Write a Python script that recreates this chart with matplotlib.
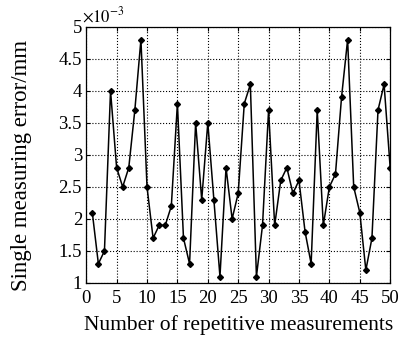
import numpy as np
import matplotlib.pyplot as plt

plt.rcParams['font.family'] = ['Liberation Serif', 'DejaVu Serif']
plt.rcParams['mathtext.fontset'] = 'stix'

# measurement index and error values (x 1e-3 mm)
runs = list(range(1, 51))
errors = [2.1, 1.3, 1.5, 4.0, 2.8, 2.5, 2.8, 3.7, 4.8, 2.5,
          1.7, 1.9, 1.9, 2.2, 3.8, 1.7, 1.3, 3.5, 2.3, 3.5,
          2.3, 1.1, 2.8, 2.0, 2.4, 3.8, 4.1, 1.1, 1.9, 3.7,
          1.9, 2.6, 2.8, 2.4, 2.6, 1.8, 1.3, 3.7, 1.9, 2.5,
          2.7, 3.9, 4.8, 2.5, 2.1, 1.2, 1.7, 3.7, 4.1, 2.8]
xticks = [0, 5, 10, 15, 20, 25, 30, 35, 40, 45, 50]
yticks = [1, 1.5, 2, 2.5, 3, 3.5, 4, 4.5, 5]

fig = plt.figure(figsize=(4.01, 3.43), dpi=100)
ax = fig.add_axes([0.215, 0.175, 0.758, 0.747])

ax.plot(runs, errors, color='black', linewidth=1.1, marker='D', markersize=3)

ax.set_xlim(0, 50)
ax.set_ylim(1, 5)
ax.set_xticks(xticks)
ax.set_yticks(yticks)
ax.set_yticklabels([f'{t:g}' for t in yticks])
ax.grid(True, color='black', linestyle=':', linewidth=0.8)
ax.tick_params(direction='in', top=True, right=True, labelsize=13.5, length=3)
ax.tick_params(axis='x', pad=5)
ax.tick_params(axis='y', pad=3)
for s in ax.spines.values():
    s.set_linewidth(0.9)

ax.set_xlabel('Number of repetitive measurements', fontsize=15.5, labelpad=6)
ax.set_ylabel('Single measuring error/mm', fontsize=16.5)
ax.yaxis.set_label_coords(-0.178, 0.46)
ax.text(-0.015, 1.005, r'$\times 10^{-3}$', transform=ax.transAxes, fontsize=12,
        ha='left', va='bottom')

fig.savefig('out.png', dpi=100)
